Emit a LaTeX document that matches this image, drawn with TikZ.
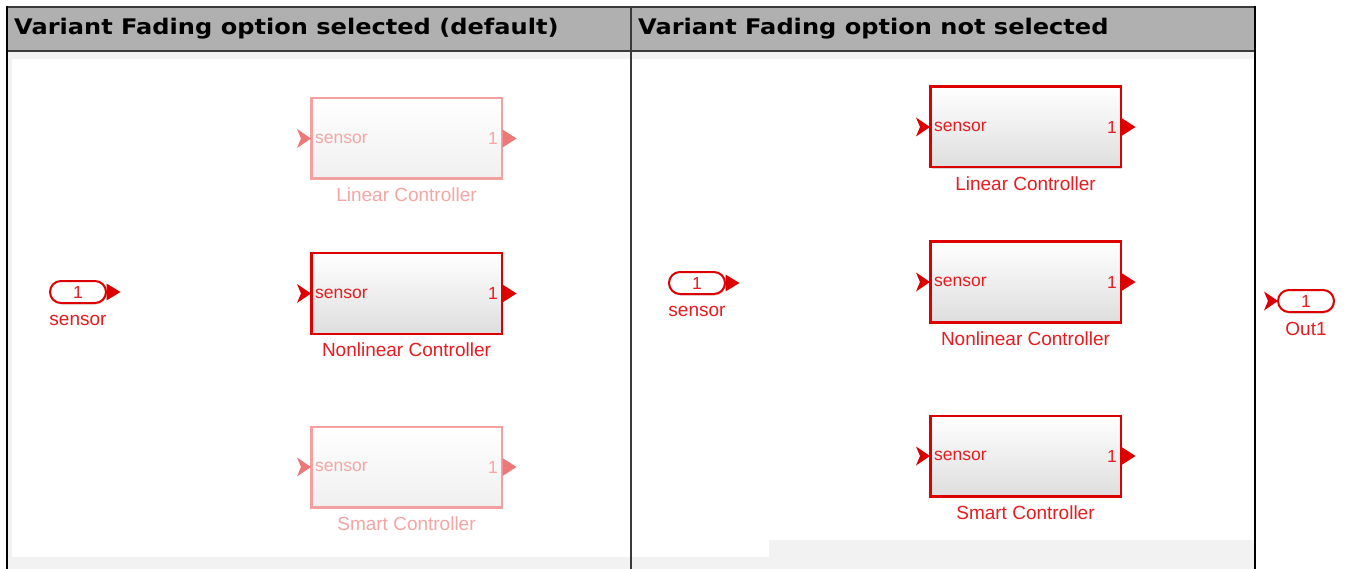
\documentclass[tikz,border=0pt]{standalone}
\usepackage{fontspec}
\setmainfont{Liberation Sans}
\newfontfamily\hdrfont{DejaVu Sans}[FakeStretch=1.12]
\usetikzlibrary{shadows}

\definecolor{hdrgray}{HTML}{B0B0B0}
\definecolor{cellgray}{HTML}{F2F2F2}
\definecolor{rulegray}{HTML}{3A3A3A}
\definecolor{simred}{RGB}{220,0,0}
\definecolor{simtext}{RGB}{232,28,32}
\definecolor{fadeline}{RGB}{244,160,160}
\definecolor{fadetext}{RGB}{246,165,165}
\definecolor{fadearrow}{RGB}{236,120,120}

\tikzset{
  hdr/.style={font=\hdrfont\bfseries\fontsize{21.5}{25}\selectfont, text=black, anchor=west, inner sep=0pt},
  % live (active) variant
  livebox/.style={draw=simred, line width=2.5pt, top color=white, bottom color=black!13,
    minimum width=190.5pt, minimum height=80.5pt, inner sep=0pt,
    drop shadow={shadow xshift=1.5pt, shadow yshift=-1.5pt, opacity=0.25, fill=black!60}},
  livetxt/.style={text=simtext, font=\fontsize{17.5}{20}\selectfont, inner sep=0pt},
  livelbl/.style={text=simtext, font=\fontsize{19}{22}\selectfont, inner sep=0pt},
  livearrow/.style={fill=simred},
  % faded (inactive) variant
  fadebox/.style={draw=fadeline, line width=2.5pt, top color=white, bottom color=black!6,
    minimum width=190.5pt, minimum height=80.5pt, inner sep=0pt,
    drop shadow={shadow xshift=1.5pt, shadow yshift=-1.5pt, opacity=0.1, fill=black!60}},
  fadetxt/.style={text=fadetext, font=\fontsize{17.5}{20}\selectfont, inner sep=0pt},
  fadelbl/.style={text=fadetext, font=\fontsize{19}{22}\selectfont, inner sep=0pt},
  fadearrow/.style={fill=fadearrow},
  % ports
  portshape/.style={draw=simred, line width=2pt, fill=white, rounded corners=11pt,
    minimum width=56pt, minimum height=22pt, inner sep=0pt, text=simtext,
    font=\fontsize{17.5}{20}\selectfont,
    drop shadow={shadow xshift=1pt, shadow yshift=-1.5pt, opacity=0.25, fill=black!60}},
}

% subsystem block: name, centre x, centre y, caption, variant (live/fade)
\newcommand{\ctrlblock}[5]{%
  \node[#5box] (#1) at (#2,#3) {};
  \node[#5txt, anchor=west] (#1-in) at ([xshift=5pt]#1.west) {sensor};
  \node[#5txt, anchor=east] (#1-out) at ([xshift=-5pt]#1.east) {1};
  \node[#5lbl, anchor=north] (#1-cap) at ([yshift=-8pt]#1.south) {#4};
  \fill[#5arrow] ([xshift=1pt]#1.west) -- ++(-14,-9.5) -- ++(4,9.5) -- ++(-4,9.5) -- cycle;
  \fill[#5arrow] ([xshift=-0.5pt]#1.east) ++(0,-9) -- ++(14,9) -- ++(-14,9) -- cycle;
}

\begin{document}
\begin{tikzpicture}[x=1pt, y=-1pt]
  \useasboundingbox (0,0) rectangle (1348,569);
  \fill[white] (0,0) rectangle (1348,569);

  % table cells
  \fill[cellgray] (7,51) rectangle (1255,569);
  \fill[white] (12,59) rectangle (631,557);
  \fill[white] (632,59) rectangle (1254,540);
  \fill[white] (632,540) rectangle (769,557);
  \fill[hdrgray] (7,7) rectangle (1255,51);

  % table rules
  \draw[rulegray, line width=2pt] (6,7) -- (1256,7);
  \draw[rulegray, line width=2pt] (7,51) -- (1255,51);
  \draw[rulegray, line width=2pt] (631,7) -- (631,569);
  \draw[black, line width=2pt] (7,6) -- (7,569);
  \draw[black, line width=2.5pt] (1255,6) -- (1255,569);

  % header texts
  \node[hdr] (h1) at (14,29) {Variant Fading option selected (default)};
  \node[hdr] (h2) at (638,29) {Variant Fading option not selected};

  % ---- left cell: inactive variants faded ----
  \node[portshape] (inL) at (78,292) {1};
  \fill[simred] ([xshift=-0.5pt]inL.east) ++(0,-8.5) -- ++(14,8.5) -- ++(-14,8.5) -- cycle;
  \node[livelbl, anchor=north] (inLcap) at ([yshift=-11pt]inL.south) {sensor};

  \ctrlblock{linL}{406.5}{138.5}{Linear Controller}{fade}
  \ctrlblock{nlinL}{406.5}{293.5}{Nonlinear Controller}{live}
  \ctrlblock{smartL}{406.5}{467}{Smart Controller}{fade}

  % ---- right cell: all variants shown ----
  \node[portshape] (inR) at (697,283) {1};
  \fill[simred] ([xshift=-0.5pt]inR.east) ++(0,-8.5) -- ++(14,8.5) -- ++(-14,8.5) -- cycle;
  \node[livelbl, anchor=north] (inRcap) at ([yshift=-11pt]inR.south) {sensor};

  \ctrlblock{linR}{1025.5}{127}{Linear Controller}{live}
  \ctrlblock{nlinR}{1025.5}{282}{Nonlinear Controller}{live}
  \ctrlblock{smartR}{1025.5}{456}{Smart Controller}{live}

  % outport beyond the table
  \node[portshape] (out) at (1306,301) {1};
  \fill[simred] ([xshift=1pt]out.west) -- ++(-14,-9.5) -- ++(4,9.5) -- ++(-4,9.5) -- cycle;
  \node[livelbl, anchor=north] (outcap) at ([yshift=-9pt]out.south) {Out1};
\end{tikzpicture}
\end{document}
